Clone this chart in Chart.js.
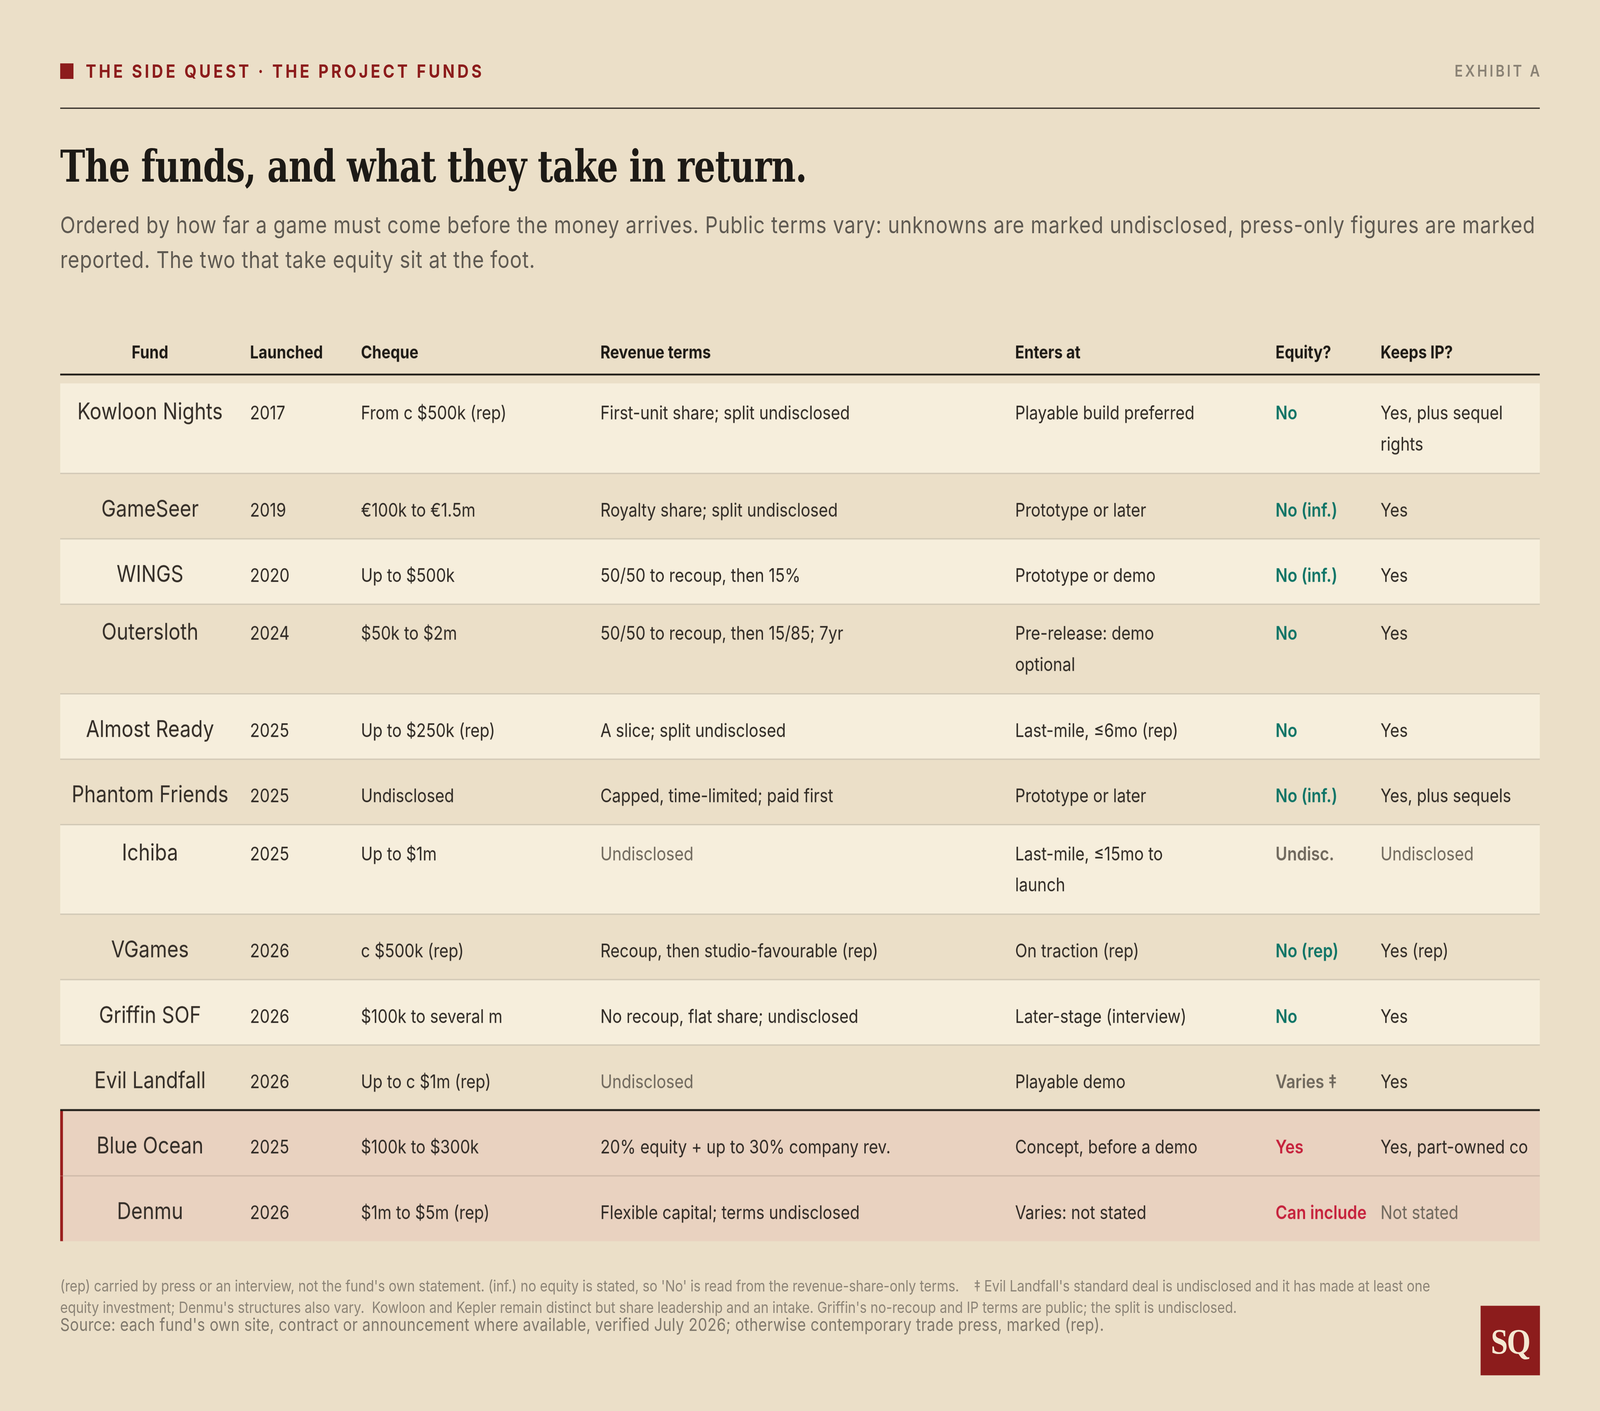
<!DOCTYPE html>
<html lang="en">
<head>
<meta charset="utf-8">
<title>The funds, and what they take in return.</title>
<script src="https://cdn.jsdelivr.net/npm/chart.js@4.4.1/dist/chart.umd.min.js"></script>
<style>
  html, body { margin: 0; padding: 0; background: #ebdfc8; }
  body { width: 100vw; height: 100vh; overflow: hidden; position: relative; }
  #page { position: absolute; left: 0; top: 0; width: 1568px; height: 1180px;
          transform-origin: 0 0;
          font-family: Inter, "Noto Sans", sans-serif; color: #2e2924; }
  .abs { position: absolute; margin: 0; white-space: nowrap; }
  #mark { left: 59px; top: 53px; width: 13px; height: 13px; background: #8c1c1c; }
  #kicker { left: 84px; top: 51.5px; font-size: 15.4px; line-height: 15.4px; font-weight: 700;
            letter-spacing: 2.6px; color: #8c1c1c; }
  #exhibit { right: 59px; top: 53.3px; font-size: 13.4px; line-height: 13.4px; font-weight: 600;
             letter-spacing: 2.2px; color: #8a8275; margin-right: -2.2px; }
  #rule { left: 59px; top: 89.5px; width: 1450px; height: 1.2px; background: #2a2520; }
  h1.abs { left: 59px; top: 120px; font-family: "DejaVu Serif Condensed", "DejaVu Serif", serif;
           font-stretch: condensed; font-weight: 700;
           font-size: 36.6px; line-height: 40px; letter-spacing: -0.4px; color: #1d1a16; }
  #dek { left: 59px; top: 174.4px; width: 1456px; font-size: 19.5px; line-height: 28.3px;
         letter-spacing: 0.4px; color: #5f5a52; white-space: normal; }
  #table { position: absolute; left: 59px; top: 270px; }
  #notes { left: 59px; top: 1065.5px; width: 1370px; font-size: 12.95px; line-height: 18.8px;
           color: #8c8477; white-space: pre-wrap; }
  #source { left: 59px; top: 1100.8px; font-size: 14.6px; line-height: 14.6px; letter-spacing: 0.18px;
            color: #7f786c; }
  #logo { left: 1451px; top: 1092px; width: 58px; height: 58px; background: #8c1c1c;
          color: #f4e8d2; font-family: "Liberation Serif", serif; font-weight: 700;
          font-size: 30px; line-height: 60px; text-align: center; letter-spacing: -1px; }
</style>
</head>
<body>
<div id="page">
  <div class="abs" id="mark"></div>
  <div class="abs" id="kicker">THE SIDE QUEST · THE PROJECT FUNDS</div>
  <div class="abs" id="exhibit">EXHIBIT A</div>
  <div class="abs" id="rule"></div>
  <h1 class="abs">The funds, and what they take in return.</h1>
  <p class="abs" id="dek">Ordered by how far a game must come before the money arrives. Public terms vary: unknowns are marked undisclosed, press-only figures are marked reported. The two that take equity sit at the foot.</p>
  <canvas id="table" width="1450" height="772"></canvas>
  <p class="abs" id="notes">(rep) carried by press or an interview, not the fund's own statement. (inf.) no equity is stated, so 'No' is read from the revenue-share-only terms.    ‡ Evil Landfall's standard deal is undisclosed and it has made at least one equity investment; Denmu's structures also vary.  Kowloon and Kepler remain distinct but share leadership and an intake. Griffin's no-recoup and IP terms are public; the split is undisclosed.</p>
  <p class="abs" id="source">Source: each fund's own site, contract or announcement where available, verified July 2026; otherwise contemporary trade press, marked (rep).</p>
  <div class="abs" id="logo">SQ</div>
</div>
<script>
// table data, one array per column
const funds = ["Kowloon Nights", "GameSeer", "WINGS", "Outersloth", "Almost Ready", "Phantom Friends",
  "Ichiba", "VGames", "Griffin SOF", "Evil Landfall", "Blue Ocean", "Denmu"];
const launched = [2017, 2019, 2020, 2024, 2025, 2025, 2025, 2026, 2026, 2026, 2025, 2026];
const cheque = ["From c $500k (rep)", "€100k to €1.5m", "Up to $500k", "$50k to $2m", "Up to $250k (rep)",
  "Undisclosed", "Up to $1m", "c $500k (rep)", "$100k to several m", "Up to c $1m (rep)",
  "$100k to $300k", "$1m to $5m (rep)"];
const revenueTerms = ["First-unit share; split undisclosed", "Royalty share; split undisclosed",
  "50/50 to recoup, then 15%", "50/50 to recoup, then 15/85; 7yr", "A slice; split undisclosed",
  "Capped, time-limited; paid first", "Undisclosed", "Recoup, then studio-favourable (rep)",
  "No recoup, flat share; undisclosed", "Undisclosed", "20% equity + up to 30% company rev.",
  "Flexible capital; terms undisclosed"];
const entersAt = ["Playable build preferred", "Prototype or later", "Prototype or demo",
  "Pre-release: demo optional", "Last-mile, ≤6mo (rep)", "Prototype or later",
  "Last-mile, ≤15mo to launch", "On traction (rep)", "Later-stage (interview)", "Playable demo",
  "Concept, before a demo", "Varies: not stated"];
const equity = ["No", "No (inf.)", "No (inf.)", "No", "No", "No (inf.)", "Undisc.", "No (rep)", "No",
  "Varies ‡", "Yes", "Can include"];
const keepsIP = ["Yes, plus sequel rights", "Yes", "Yes", "Yes", "Yes", "Yes, plus sequels", "Undisclosed",
  "Yes (rep)", "Yes", "Yes", "Yes, part-owned co", "Not stated"];

const takesEquity = equity.map(e => e === "Yes" || e === "Can include");

// stretch the 1568x1180 design over the whole window
const sx = window.innerWidth / 1568;
const sy = window.innerHeight / 1180;
document.getElementById("page").style.transform = "scale(" + sx + "," + sy + ")";
const SCALE = Math.max(sx, sy) * (window.devicePixelRatio || 1);

// layout
const TABLE_H = 772;
const HEAD_H = 51;
const HEAD_BASE = 29.7;
const HEAD_RULE = 43.2;
const ROW_H = { 1: 54.7, 2: 74.9 };
const BASE_OFF = { 1: 36.1, 2: 29.8 };
const LINE_STEP = 26;

const INK = "#2e2924";
const MUTED = "#6f685d";
const TEAL = "#0e7466";
const CRIMSON = "#c6213c";
const BODY_FONT = "400 15.6px Inter";

const plain = () => INK;
const maybeMuted = t => (t === "Undisclosed" || t === "Not stated") ? MUTED : INK;
const equityColour = t => t.startsWith("No") ? TEAL : (t === "Yes" || t === "Can include") ? CRIMSON : MUTED;

const columns = [
  { head: "Fund", values: funds, x: 88, align: "center", font: "400 19.3px Inter", maxW: 200, colour: () => "#332d27" },
  { head: "Launched", values: launched, x: 186, align: "left", font: BODY_FONT, maxW: 100, colour: plain },
  { head: "Cheque", values: cheque, x: 294.7, align: "left", font: BODY_FONT, maxW: 220, colour: plain },
  { head: "Revenue terms", values: revenueTerms, x: 529.3, align: "left", font: BODY_FONT, maxW: 390, colour: maybeMuted },
  { head: "Enters at", values: entersAt, x: 935.7, align: "left", font: BODY_FONT, maxW: 192, colour: plain },
  { head: "Equity?", values: equity, x: 1190.9, align: "left", font: "600 15.6px Inter", maxW: 200, colour: equityColour },
  { head: "Keeps IP?", values: keepsIP, x: 1293.8, align: "left", font: BODY_FONT, maxW: 157, colour: maybeMuted },
];

const meas = document.createElement("canvas").getContext("2d");
function wrapText(text, font, maxW) {
  meas.font = font;
  const words = text.split(" ");
  const lines = [];
  let cur = "";
  for (const w of words) {
    const t = cur ? cur + " " + w : w;
    if (cur && meas.measureText(t).width > maxW) {
      lines.push(cur);
      cur = w;
    } else {
      cur = t;
    }
  }
  lines.push(cur);
  return lines;
}

const cells = funds.map((_, r) => columns.map(col => {
  const text = String(col.values[r]);
  return { lines: wrapText(text, col.font, col.maxW), colour: col.colour(text) };
}));
const rowLines = cells.map(row => Math.max(...row.map(c => c.lines.length)));
const rowHeights = rowLines.map(n => n > 1 ? ROW_H[2] : ROW_H[1]);

// each row is one stacked bar segment; the first segment is the header band
const datasets = [{ label: "header", data: [HEAD_H], backgroundColor: "rgba(0,0,0,0)", borderWidth: 0 }]
  .concat(funds.map((f, i) => ({
    label: f,
    data: [rowHeights[i]],
    backgroundColor: takesEquity[i] ? "#e9d2c0" : (i % 2 === 0 ? "#f6eedc" : "rgba(0,0,0,0)"),
    borderColor: "#9a1d1d",
    borderWidth: takesEquity[i] ? { left: 3, top: 0, right: 0, bottom: 0 } : 0,
    borderSkipped: false,
  })));

function hline(ctx, x0, x1, y, w, colour) {
  ctx.fillStyle = colour;
  ctx.fillRect(x0, y - w / 2, x1 - x0, w);
}

const tableCells = {
  id: "tableCells",
  afterDatasetsDraw(chart) {
    const { ctx, chartArea } = chart;
    const y = chart.scales.y;
    const left = chartArea.left, right = chartArea.right;
    ctx.save();
    ctx.textBaseline = "alphabetic";

    ctx.fillStyle = "#1d1a16";
    ctx.font = "700 14.8px Inter";
    columns.forEach(col => {
      ctx.textAlign = col.align;
      ctx.fillText(col.head, left + col.x, y.getPixelForValue(HEAD_BASE));
    });
    hline(ctx, left, right, y.getPixelForValue(HEAD_RULE), 1.5, "#1d1a16");

    funds.forEach((f, r) => {
      const el = chart.getDatasetMeta(r + 1).data[0];
      const top = Math.min(el.y, el.base);
      const bottom = Math.max(el.y, el.base);
      const base = top + BASE_OFF[rowLines[r] > 1 ? 2 : 1];
      cells[r].forEach((cell, c) => {
        const col = columns[c];
        ctx.font = col.font;
        ctx.textAlign = col.align;
        ctx.fillStyle = cell.colour;
        cell.lines.forEach((ln, k) => ctx.fillText(ln, left + col.x, base + k * LINE_STEP));
      });
      if (r < funds.length - 1) {
        if (takesEquity[r + 1] && !takesEquity[r]) {
          hline(ctx, left, right, bottom - 0.3, 1.6, "#1d1a16");
        } else if (takesEquity[r]) {
          hline(ctx, left + 3, right, bottom, 1, "#cdb9a8");
        } else {
          hline(ctx, left, right, bottom, 1, "#cfc6b4");
        }
      }
    });
    ctx.restore();
  }
};

new Chart(document.getElementById("table"), {
  type: "bar",
  data: { labels: ["funds"], datasets },
  options: {
    responsive: false,
    animation: false,
    devicePixelRatio: SCALE,
    events: [],
    layout: { padding: 0 },
    datasets: { bar: { barPercentage: 1, categoryPercentage: 1 } },
    plugins: { legend: { display: false }, tooltip: { enabled: false } },
    scales: {
      x: { display: false, stacked: true },
      y: { display: false, stacked: true, reverse: true, min: 0, max: TABLE_H },
    },
  },
  plugins: [tableCells],
});
</script>
</body>
</html>
